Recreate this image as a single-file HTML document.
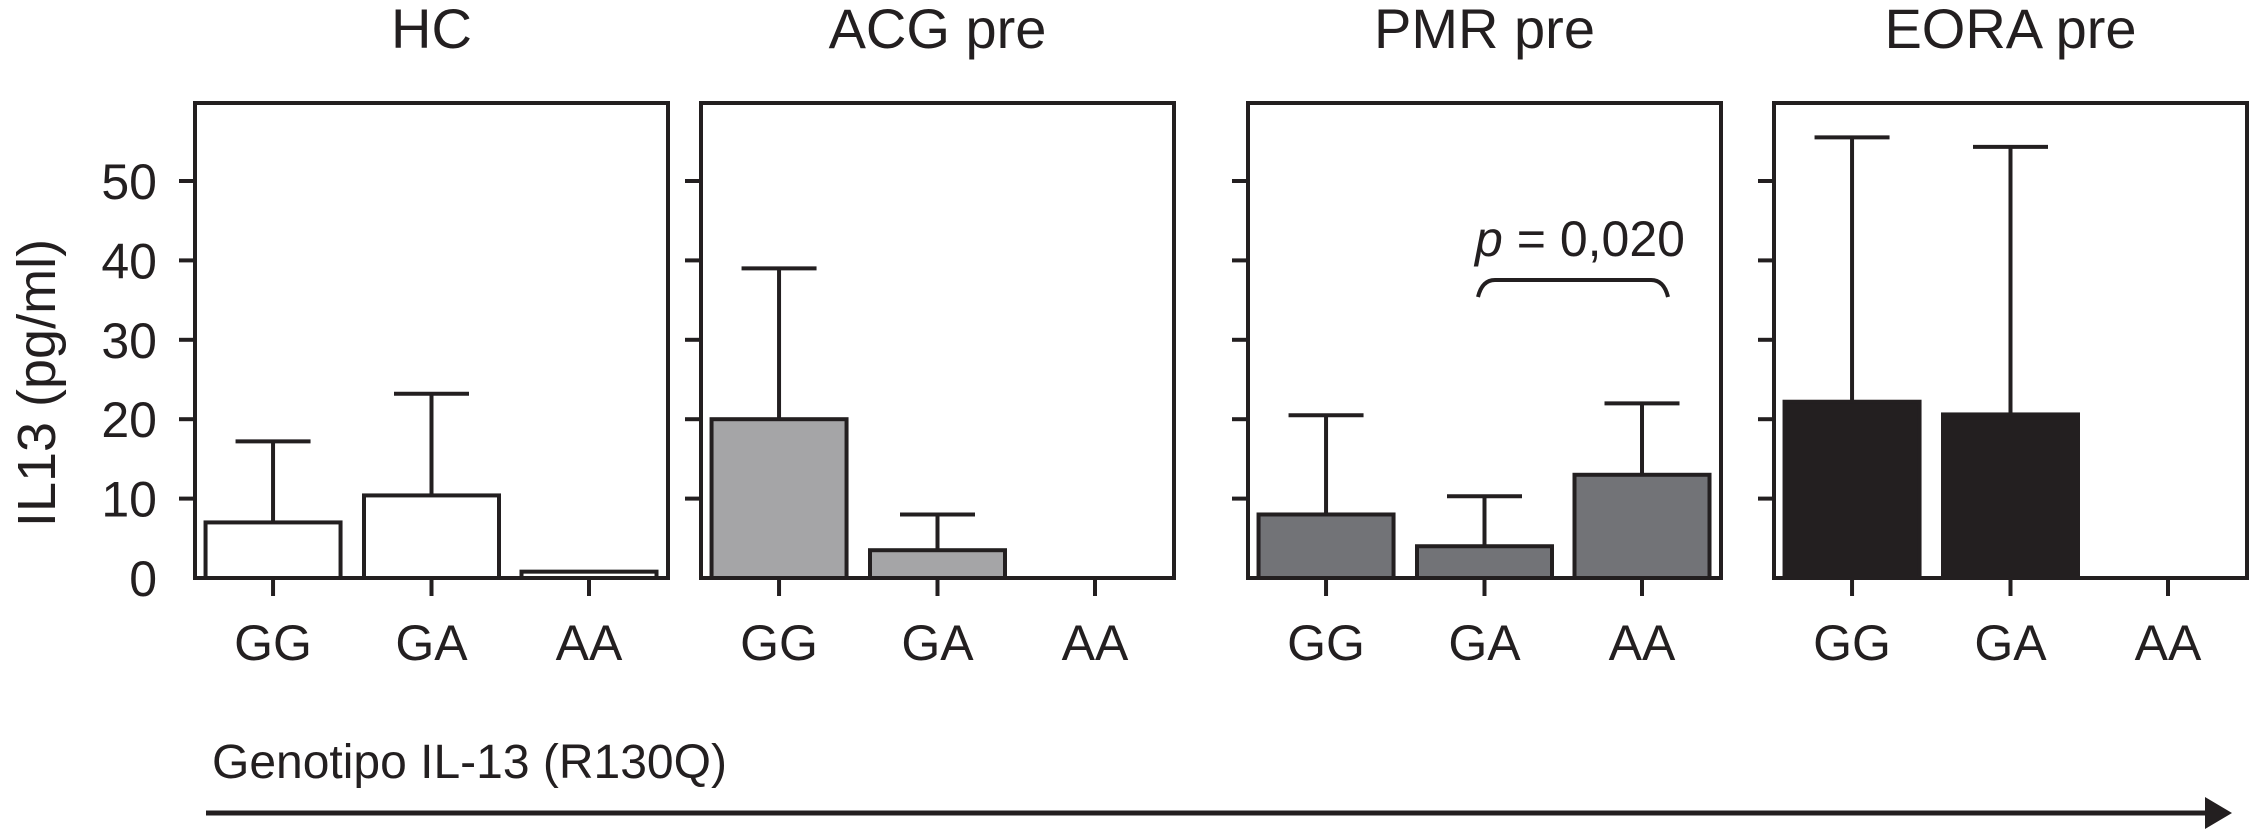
<!DOCTYPE html>
<html><head><meta charset="utf-8"><style>
html,body{margin:0;padding:0;background:#fff;}
svg{display:block;font-family:"Liberation Sans",sans-serif;}
</style></head><body>
<svg id="chart" width="2249" height="831" viewBox="0 0 2249 831" xmlns="http://www.w3.org/2000/svg"></svg>
<script>
const panels = ["HC","ACG pre","PMR pre","EORA pre"];
const categories = ["GG","GA","AA"];
const fills = ["#ffffff","#a5a5a7","#727377","#231f20"];
const meansHC = [7, 10.4, 0.8];
const errHC = [17.2, 23.2, null];
const meansACG = [20, 3.5, 0];
const errACG = [39, 8, null];
const meansPMR = [8, 4, 13];
const errPMR = [20.5, 10.3, 22];
const meansEORA = [22.2, 20.6, 0];
const errEORA = [55.5, 54.3, null];
const yTicks = [0,10,20,30,40,50];
const means = [meansHC, meansACG, meansPMR, meansEORA];
const errs = [errHC, errACG, errPMR, errEORA];

const svg = document.getElementById('chart');
const NS = "http://www.w3.org/2000/svg";
function mk(tag, attrs, parent){const e=document.createElementNS(NS,tag);for(const k in attrs)e.setAttribute(k,attrs[k]);(parent||svg).appendChild(e);return e;}
const panelLeft=[195,701,1248,1774], panelW=473, topY=103, bottomY=578;
const y0=578, pxPerUnit=(578-181)/50;
const y = v => y0 - v*pxPerUnit;
const xc = (p,i) => panelLeft[p] + panelW*[0.165,0.5,0.833][i];
const barW=135, capW=75, sw=4;

panels.forEach((name,p)=>{
  const g=mk('g',{});
  
  
  const t=mk('text',{x:panelLeft[p]+panelW/2,y:48,'font-size':56,'text-anchor':'middle',fill:'#231f20'},g);
  t.textContent=name;
  
  
  categories.forEach((c,i)=>{
    const m=means[p][i], e=errs[p][i], cx=xc(p,i);
    if(e!=null){
      const l=mk('line',{x1:cx,x2:cx,y1:y(m),y2:y(e),stroke:'#231f20','stroke-width':sw},g);
      
      
      const cap=mk('line',{x1:cx-capW/2,x2:cx+capW/2,y1:y(e),y2:y(e),stroke:'#231f20','stroke-width':sw},g);
      
      
    }
    if(m>0){
      const r=mk('rect',{x:cx-barW/2,y:y(m),width:barW,height:y0-y(m),fill:fills[p],stroke:'#231f20','stroke-width':sw},g);
      
      
    }
    const tk=mk('line',{x1:cx,x2:cx,y1:bottomY,y2:bottomY+18,stroke:'#231f20','stroke-width':sw},g);
    
    
    const lb=mk('text',{x:cx,y:660,'font-size':50,'text-anchor':'middle',fill:'#231f20'},g);
    lb.textContent=c;
    
    
  });
  yTicks.forEach(v=>{
    if(v===0) return;
    const tk=mk('line',{x1:panelLeft[p]-16,x2:panelLeft[p],y1:y(v),y2:y(v),stroke:'#231f20','stroke-width':sw},g);
    
    
  });
  const box=mk('rect',{x:panelLeft[p],y:topY,width:panelW,height:bottomY-topY,fill:'none',stroke:'#231f20','stroke-width':sw},g);
  
  
});
yTicks.forEach(v=>{
  const t=mk('text',{x:157,y:y(v)+18,'font-size':50,'text-anchor':'end',fill:'#231f20'});
  t.textContent=String(v);
  
  
});
const yt=mk('text',{x:0,y:0,'font-size':54,'text-anchor':'middle',fill:'#231f20',transform:'translate(55,383) rotate(-90)'});
yt.textContent='IL13 (pg/ml)';


const br=mk('path',{d:'M1478 297 Q1482 280 1495 280 L1651 280 Q1664 280 1668 297',fill:'none',stroke:'#231f20','stroke-width':sw});


const pv=mk('text',{x:1580,y:256,'font-size':50,'text-anchor':'middle',fill:'#231f20'});
pv.innerHTML='<tspan font-style="italic">p</tspan> = 0,020';


const xt=mk('text',{x:212,y:778,'font-size':48,fill:'#231f20'});
xt.textContent='Genotipo IL-13 (R130Q)';


const ar=mk('line',{x1:206,x2:2215,y1:813,y2:813,stroke:'#231f20','stroke-width':5});


const ah=mk('polygon',{points:'2205,797 2232,813 2205,829',fill:'#231f20'});


</script>
</body></html>
